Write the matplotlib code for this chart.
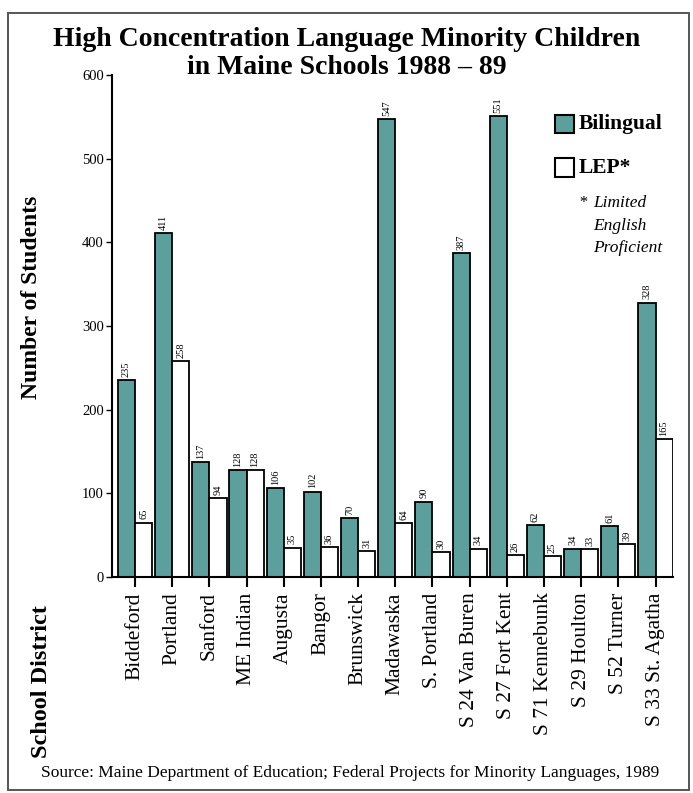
import matplotlib
matplotlib.use("Agg")
import matplotlib.pyplot as plt
import numpy as np
from matplotlib.patches import Rectangle

districts = ["Biddeford", "Portland", "Sanford", "ME Indian", "Augusta", "Bangor",
             "Brunswick", "Madawaska", "S. Portland", "S 24 Van Buren", "S 27 Fort Kent",
             "S 71 Kennebunk", "S 29 Houlton", "S 52 Turner", "S 33 St. Agatha"]
bilingual = [235, 411, 137, 128, 106, 102, 70, 547, 90, 387, 551, 62, 34, 61, 328]
lep = [65, 258, 94, 128, 35, 36, 31, 64, 30, 34, 26, 25, 33, 39, 165]
yticks = [0, 100, 200, 300, 400, 500, 600]

teal = "#5c9f9c"
serif = ["Liberation Serif", "DejaVu Serif"]
plt.rcParams["font.family"] = serif

fig = plt.figure(figsize=(6.93, 7.93), dpi=100)
fig.patches.append(Rectangle((8/693, 1-790/793), (689-8)/693, (790-13)/793,
                             transform=fig.transFigure, fill=False,
                             edgecolor="#555555", linewidth=1.4))

ax = fig.add_axes([112/693, 216/793, (673-112)/693, (718-216)/793])
x = np.arange(len(districts))
w = 0.46
ax.bar(x - w/2, bilingual, width=w, color=teal, edgecolor="black", linewidth=1.3,
       label="Bilingual")
ax.bar(x + w/2, lep, width=w, color="white", edgecolor="black", linewidth=1.3,
       label="LEP*")
for xi, b, l in zip(x, bilingual, lep):
    ax.text(xi - w/2, b + 4, str(b), rotation=90, ha="center", va="bottom", fontsize=7.5)
    ax.text(xi + w/2, l + 4, str(l), rotation=90, ha="center", va="bottom", fontsize=7.5)

ax.set_xlim(-0.62, 14.47)
ax.set_ylim(0, 600)
ax.set_yticks(yticks)
ax.set_yticklabels([str(t) for t in yticks], fontsize=10.5)
ax.set_xticks(x)
ax.set_xticklabels(districts, rotation=90, fontsize=15.5, va="top")
ax.tick_params(axis="x", length=7, width=1.5, pad=4)
ax.tick_params(axis="y", length=4, width=1, pad=2)
for s in ["top", "right"]:
    ax.spines[s].set_visible(False)
ax.spines["left"].set_linewidth(1.5)
ax.spines["bottom"].set_linewidth(1.5)

ax.set_ylabel("Number of Students", fontsize=17, fontweight="bold")
ax.yaxis.set_label_coords(-(112-42)/561, (793-297-216)/502)

fig.text(0.5, 1-39/793, "High Concentration Language Minority Children",
         ha="center", va="center", fontsize=20, fontweight="bold")
fig.text(0.5, 1-68/793, "in Maine Schools 1988 \u2013 89",
         ha="center", va="center", fontsize=20, fontweight="bold")
fig.text(42/693, 1-682/793, "School District", rotation=90, ha="center",
         va="center", fontsize=17.5, fontweight="bold")
fig.text(350/693, 1-773/793,
         "Source: Maine Department of Education; Federal Projects for Minority Languages, 1989",
         ha="center", va="center", fontsize=12.5)

# legend
fig.patches.append(Rectangle((555/693, 1-133/793), 19/693, 18/793, transform=fig.transFigure,
                             facecolor=teal, edgecolor="black", linewidth=1.5))
fig.patches.append(Rectangle((555/693, 1-177/793), 19/693, 19/793, transform=fig.transFigure,
                             facecolor="white", edgecolor="black", linewidth=1.5))
fig.text(579/693, 1-124/793, "Bilingual", fontsize=15.5, fontweight="bold", va="center")
fig.text(579/693, 1-168/793, "LEP*", fontsize=15.5, fontweight="bold", va="center")
fig.text(578/693, 1-203/793, "*", fontsize=12, style="italic", va="center")
fig.text(593/693, 1-203/793, "Limited", fontsize=12.5, style="italic", va="center")
fig.text(593/693, 1-226/793, "English", fontsize=12.5, style="italic", va="center")
fig.text(593/693, 1-248/793, "Proficient", fontsize=12.5, style="italic", va="center")

fig.savefig("out.png", dpi=100)
